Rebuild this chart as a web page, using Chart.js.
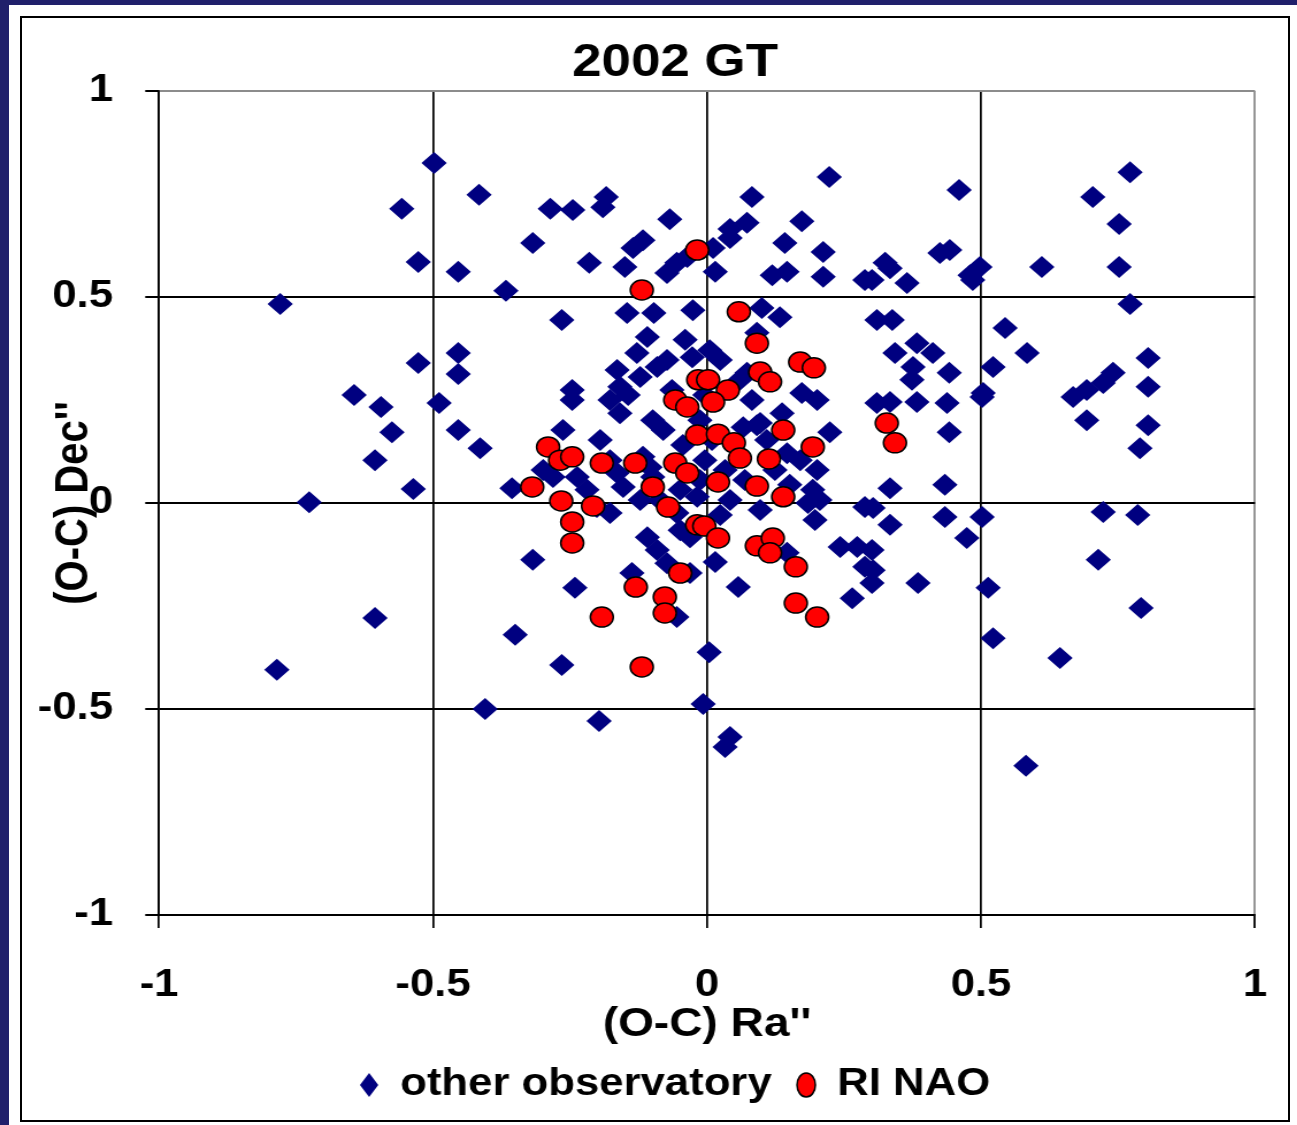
<!DOCTYPE html>
<html><head><meta charset="utf-8">
<script src="https://cdn.jsdelivr.net/npm/chart.js@4/dist/chart.umd.min.js"></script>
<style>
html,body{margin:0;padding:0;overflow:hidden;background:#20206b;width:1297px;height:1125px}
#panel{position:absolute;left:9px;top:5px;width:1288px;height:1120px;background:#fff}
#frame{position:absolute;left:20px;top:16px;width:1270px;height:1106px;border:2px solid #000;box-sizing:border-box}
#wrap{position:absolute;left:0;top:0;width:1174px;height:1125px;transform:scaleX(1.15);transform-origin:0 0}
</style></head><body>
<div id="panel"></div><div id="frame"></div>
<div id="wrap"><canvas id="c" width="1174" height="1125"></canvas></div>
<script>
const chartTitle = '2002 GT';
const xTitle = "(O-C) Ra''";
const yTitle = "(O-C) Dec''";
const seriesNames = ['other observatory', 'RI NAO'];
const axisMin = -1, axisMax = 1, axisStep = 0.5;

const otherX = [-0.498,-0.416,-0.557,-0.527,-0.454,-0.367,-0.779,-0.527,-0.454,-0.454,-0.644,-0.595,-0.575,-0.606,-0.489,-0.454,-0.414,-0.536,-0.726,-0.356,-0.606,-0.785,-0.350,-0.405,
 -0.286,-0.245,-0.184,-0.190,-0.068,0.082,0.223,0.073,0.173,0.042,
 0.460,0.772,0.704,0.752,0.752,0.611,0.772,0.325,0.334,0.365,0.301,0.425,0.443,0.480,0.498,0.485,0.310,0.338,0.544,0.584,0.522,0.343,0.383,0.412,0.376,0.374,0.442,0.805,0.805,0.741,0.723,0.693,0.668,0.504,
 0.334,0.383,0.438,0.502,0.693,0.805,0.790,0.442,0.334,0.434,0.303,0.334,0.434,0.502,0.474,0.723,0.786,0.714,0.303,0.301,0.385,0.513,0.792,0.522,0.644,0.582,
 -0.318,-0.215,-0.265,-0.146,-0.097,-0.117,-0.135,-0.150,-0.055,-0.073,-0.036,-0.026,-0.109,-0.128,-0.027,-0.164,-0.159,-0.122,-0.091,-0.073,-0.177,-0.246,-0.246,-0.144,
 -0.263,-0.318,-0.241,-0.137,-0.055,-0.109,-0.091,-0.073,-0.299,-0.281,-0.237,-0.219,-0.201,-0.177,-0.164,-0.153,-0.159,-0.099,-0.080,-0.117,-0.104,-0.099,-0.055,-0.031,
 0.011,0.042,0.142,0.212,0.015,0.119,0.146,0.212,0.288,0.100,0.133,0.091,0.024,0.073,0.060,0.082,0.173,0.201,0.310,0.137,
 0.091,0.224,0.201,0.193,0.184,0.170,0.146,0.042,0.288,0.243,0.274,0.288,0.301,0.265,0.057,0.015,0.146,-0.031,0.066,0.097,-0.018,
 -0.265,0.004,-0.007,-0.197,0.042,0.033,
 -0.004,-0.013,0.009,-0.004,0.033,0.069,-0.013,-0.044,-0.064,-0.040,0.005,0.109,0.124,0.151,0.206,0.197,-0.122,-0.086,-0.195,-0.177,-0.049,0.024,0.097,-0.049];
const otherY = [0.825,0.748,0.714,0.585,0.561,0.515,0.483,0.340,0.364,0.313,0.262,0.233,0.172,0.104,0.243,0.177,0.133,0.034,0.002,0.036,-0.279,-0.405,-0.320,-0.500,
 0.714,0.711,0.743,0.718,0.689,0.743,0.791,0.680,0.684,0.665,
 0.760,0.803,0.743,0.677,0.573,0.573,0.483,0.583,0.570,0.534,0.541,0.607,0.614,0.553,0.573,0.541,0.444,0.444,0.425,0.364,0.330,0.364,0.388,0.364,0.330,0.299,0.316,0.352,0.282,0.316,0.291,0.274,0.257,0.267,
 0.245,0.245,0.243,0.257,0.201,0.189,0.133,0.172,0.036,0.044,-0.012,-0.053,-0.034,-0.034,-0.085,-0.022,-0.029,-0.138,-0.163,-0.114,-0.194,-0.206,-0.255,-0.328,-0.376,-0.638,
 0.631,0.583,0.444,0.461,0.461,0.638,0.619,0.573,0.583,0.558,0.597,0.468,0.403,0.364,0.354,0.323,0.282,0.306,0.330,0.347,0.250,0.274,0.250,0.262,
 0.177,-0.138,-0.206,-0.170,-0.277,-0.083,-0.114,-0.146,0.080,0.063,0.063,0.032,-0.010,-0.024,0.073,0.039,0.218,0.201,0.177,0.112,0.087,0.063,-0.024,-0.083,
 0.619,0.643,0.631,0.609,0.561,0.553,0.561,0.549,0.541,0.473,0.451,0.413,0.347,0.316,0.299,0.250,0.267,0.250,0.243,0.218,
 0.189,0.172,0.080,0.032,0.000,0.104,0.121,0.007,-0.010,-0.107,-0.107,-0.155,-0.194,-0.231,-0.204,-0.143,-0.121,-0.170,0.184,0.194,0.015,
 -0.393,-0.362,-0.488,-0.529,-0.568,-0.592,
 0.262,0.201,0.153,0.104,0.080,0.056,0.056,0.141,0.274,0.396,0.371,0.153,0.080,0.044,0.007,-0.041,0.007,0.007,0.153,0.104,0.032,-0.029,-0.017,-0.066];

const naoX = [-0.018,-0.119,0.058,0.091,0.170,0.195,0.097,0.115,-0.016,0.002,0.038,0.011,-0.058,-0.036,
 -0.290,-0.268,-0.246,-0.192,-0.131,-0.058,-0.036,-0.319,-0.266,-0.208,-0.099,-0.071,-0.246,-0.246,-0.049,-0.130,-0.077,-0.077,-0.192,-0.119,-0.018,-0.005,
 -0.018,0.020,0.049,0.060,0.113,0.139,0.193,0.020,0.091,0.139,0.020,0.091,0.120,0.115,0.162,0.162,0.201,0.328,0.343];
const naoY = [0.614,0.517,0.464,0.388,0.342,0.328,0.318,0.294,0.299,0.299,0.274,0.245,0.250,0.233,
 0.136,0.104,0.112,0.097,0.097,0.097,0.073,0.039,0.005,-0.007,0.039,-0.010,-0.046,-0.097,-0.170,-0.204,-0.228,-0.267,-0.277,-0.398,-0.053,-0.056,
 0.165,0.167,0.146,0.109,0.107,0.177,0.136,0.051,0.041,0.015,-0.085,-0.104,-0.085,-0.121,-0.155,-0.243,-0.277,0.194,0.146];

const zip = (xs, ys) => xs.map((x, i) => ({x: x, y: ys[i]}));
const FONT = "'Liberation Sans', Arial, sans-serif";
const gridColor = c => (c.tick && c.tick.value === axisMax) ? '#8c8c8c' : '#000000';
const tickText = v => String(Math.round(v * 100) / 100);

new Chart(document.getElementById('c'), {
  type: 'scatter',
  data: {
    datasets: [
      { label: seriesNames[0], data: zip(otherX, otherY), pointStyle: 'rectRot', pointRadius: 11, pointHoverRadius: 11,
        backgroundColor: '#000080', borderColor: '#000080', borderWidth: 0, order: 1 },
      { label: seriesNames[1], data: zip(naoX, naoY), pointStyle: 'circle', pointRadius: 10, pointHoverRadius: 10,
        backgroundColor: '#ff0000', borderColor: '#000000', borderWidth: 1.5, order: 0 }
    ]
  },
  options: {
    responsive: false, animation: false, devicePixelRatio: 1,
    events: [],
    layout: { padding: { left: 0, right: 0, top: 0, bottom: 11 } },
    plugins: {
      title: { display: true, text: chartTitle, color: '#000',
        font: { family: FONT, size: 46, weight: 'bold', lineHeight: 1 }, padding: { top: 40, bottom: 5 } },
      legend: { position: 'bottom',
        labels: { usePointStyle: true, boxHeight: 17, pointStyleWidth: 16, padding: 22, color: '#000',
          sort: (a, b) => a.datasetIndex - b.datasetIndex,
          font: { family: FONT, size: 38, weight: 'bold' } } },
      tooltip: { enabled: false }
    },
    scales: {
      x: { type: 'linear', position: 'bottom', min: axisMin, max: axisMax,
        ticks: { stepSize: axisStep, maxRotation: 0, minRotation: 0, autoSkip: false, padding: 35, color: '#000',
          callback: tickText, font: { family: FONT, size: 38, weight: 'bold' } },
        grid: { color: gridColor, lineWidth: 1.75, tickColor: '#000', tickLength: 13 },
        border: { display: true, color: '#000', width: 2 },
        title: { display: true, text: xTitle, color: '#000', font: { family: FONT, size: 40, weight: 'bold', lineHeight: 1 },
          padding: { top: 0, bottom: -1 } },
        afterFit: s => { s.height = 129; } },
      y: { type: 'linear', position: 'left', min: axisMin, max: axisMax,
        ticks: { stepSize: axisStep, padding: 28, color: '#000', callback: tickText,
          font: { family: FONT, size: 38, weight: 'bold' } },
        grid: { color: gridColor, lineWidth: 2, tickColor: '#000', tickLength: 12 },
        border: { display: true, color: '#000', width: 1.75 },
        title: { display: true, text: yTitle, color: '#000', font: { family: FONT, size: 40, weight: 'bold', lineHeight: 1 },
          padding: { top: 45, bottom: 0 } },
        afterFit: s => { s.width = 138.3; } },
      y2: { type: 'linear', position: 'right', display: true,
        ticks: { display: false }, grid: { display: false }, border: { display: false },
        afterFit: s => { s.width = 82.7; } }
    }
  }
});
</script>
</body></html>
